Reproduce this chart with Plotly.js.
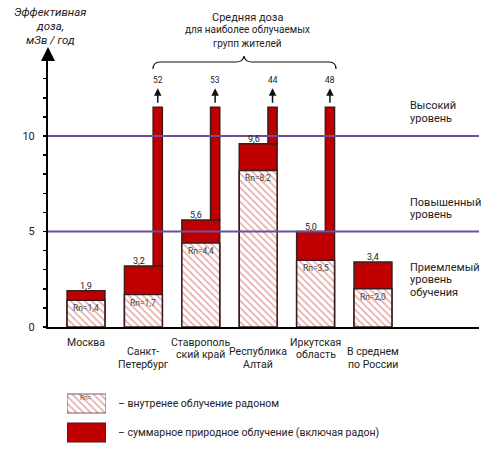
<!DOCTYPE html>
<html><head><meta charset="utf-8">
<script src="https://cdn.plot.ly/plotly-3.0.1.min.js"></script>
<style>html,body{margin:0;padding:0;background:#fff}#chart{width:488px;height:450px}</style>
</head><body><div id="chart"></div>
<script>
// ---- data ----
const categories = ['Москва', 'Санкт-\nПетербург', 'Ставрополь\nский край', 'Республика\nАлтай', 'Иркутская\nобласть', 'В среднем\nпо России'];
const radonDose = [1.4, 1.7, 4.4, 8.2, 3.5, 2.0];
const totalDose = [1.9, 3.2, 5.6, 9.6, 5.0, 3.4];
const maxGroupDose = [null, 52, 53, 44, 48, null];
const brokenBarCap = 11.5;            // displayed height of the off-scale bars
const levelValues = [5, 10];
const levelLabels = ['Высокий\nуровень', 'Повышенный\nуровень', 'Приемлемый\nуровень\nобучения'];
const yTickVals = [0, 5, 10];
const yTickText = ['0', '5', '10'];
const yTitleLines = ['Эффективная', 'доза,', 'мЗв / год'];
const bracketTitleLines = ['Средняя доза', 'для наиболее облучаемых', 'групп жителей'];
const legendLabels = ['– внутренее облучение радоном', '– суммарное природное облучение (включая радон)'];

// ---- style ----
const W = 488, H = 450;
const X = px => px / W, Y = py => 1 - py / H;
const RED = '#c00000', OUT = '#3a1c1c', PINK = '#e6a6a6', PURPLE = '#6e4f98';
const FONT = 'Roboto, "Open Sans", sans-serif';
const fmt = v => v.toFixed(1).replace('.', ',');
const hatch = {shape: '\\', fgcolor: PINK, bgcolor: '#ffffff', size: 5, solidity: 0.3};
const idx = categories.map((_, i) => i);
const WIDE = 0.66, NARROW = 0.16;

const brokenIdx = idx.filter(i => maxGroupDose[i] !== null);

const traces = [
  {type: 'bar', x: idx, y: totalDose, width: WIDE, offset: -WIDE / 2,
   marker: {color: RED, line: {color: OUT, width: 1.5}}, hoverinfo: 'skip', xaxis: 'x', yaxis: 'y'},
  {type: 'bar', x: brokenIdx, base: brokenIdx.map(i => totalDose[i]),
   y: brokenIdx.map(i => Math.min(maxGroupDose[i], brokenBarCap) - totalDose[i]),
   width: NARROW, offset: WIDE / 2 - NARROW,
   marker: {color: RED, line: {color: OUT, width: 1.5}}, hoverinfo: 'skip', xaxis: 'x', yaxis: 'y'},
  {type: 'bar', x: idx, y: radonDose, width: WIDE, offset: -WIDE / 2,
   marker: {color: '#ffffff', pattern: hatch, line: {color: OUT, width: 1.5}}, hoverinfo: 'skip', xaxis: 'x', yaxis: 'y'},
  // legend swatches
  {type: 'bar', orientation: 'h', y: [1], x: [1], width: 0.655,
   marker: {color: '#ffffff', pattern: hatch, line: {color: '#7a5a5a', width: 1}}, hoverinfo: 'skip', xaxis: 'x2', yaxis: 'y2'},
  {type: 'bar', orientation: 'h', y: [0], x: [1], width: 0.655,
   marker: {color: RED, line: {color: '#5a1010', width: 1}}, hoverinfo: 'skip', xaxis: 'x2', yaxis: 'y2'}
];

const ann = [];
const txt = (x, y, text, opt) => ann.push(Object.assign({xref: 'paper', yref: 'paper', x: X(x), y: Y(y), text, showarrow: false,
  xanchor: 'center', yanchor: 'middle', font: {family: FONT, size: 11, color: '#222'}}, opt || {}));

// value labels on top of bars
idx.forEach(i => {
  ann.push({xref: 'x', yref: 'y', x: i + (maxGroupDose[i] !== null ? -0.08 : 0), y: totalDose[i], text: fmt(totalDose[i]),
    showarrow: false, xanchor: 'center', yanchor: 'bottom', yshift: -2, font: {family: FONT, size: 9, color: '#222'}});
  ann.push({xref: 'x', yref: 'y', x: i, y: radonDose[i], text: 'Rn=' + fmt(radonDose[i]),
    showarrow: false, xanchor: 'center', yanchor: 'top', yshift: -1, font: {family: FONT, size: 8.5, color: '#444'}});
});
// arrows + values for off-scale bars
brokenIdx.forEach(i => {
  const xc = i + WIDE / 2 - NARROW / 2;
  ann.push({xref: 'x', yref: 'y', x: xc, y: brokenBarCap, yshift: 19, ax: 0, ay: 16, text: '',
    showarrow: true, arrowhead: 2, arrowsize: 1, arrowwidth: 1.5, arrowcolor: '#111'});
  ann.push({xref: 'x', yref: 'y', x: xc, y: brokenBarCap, yshift: 27, text: String(maxGroupDose[i]),
    showarrow: false, xanchor: 'center', yanchor: 'middle', font: {family: FONT, size: 8.5, color: '#222'}});
});
// category labels (staggered)
categories.forEach((c, i) => {
  const top = i % 2 === 0 ? 342 : 351.5;
  c.split('\n').forEach((line, k) => txt(86 + i * 57.4, top + k * 12.5, line, {font: {family: FONT, size: 10.5, color: '#222'}}));
});
// level labels
const levelLabelTops = [106, 202, 267];
levelLabels.forEach((l, j) => l.split('\n').forEach((line, k) =>
  txt(408, levelLabelTops[j] + k * 12.8, line, {xanchor: 'left', font: {family: FONT, size: 11, color: '#222'}})));
// y title
yTitleLines.forEach((l, k) => txt(50, 12 + k * 14, '<i>' + l + '</i>', {font: {family: FONT, size: 11.5, color: '#222'}}));
// bracket title
bracketTitleLines.forEach((l, k) => txt(247, 17 + k * 13, l, {font: {family: FONT, size: k === 0 ? 11 : 10, color: '#222'}}));
// legend
legendLabels.forEach((l, k) => txt(116, 403 + k * 29, l, {xanchor: 'left', font: {family: FONT, size: 10.5, color: '#222'}}));
txt(86, 398, 'Rn=', {font: {family: FONT, size: 6.5, color: '#555'}});
// y axis arrow head
ann.push({xref: 'paper', yref: 'paper', x: X(48), y: Y(47), ax: 0, ay: 14, text: '', showarrow: true,
  arrowhead: 2, arrowsize: 1.4, arrowwidth: 2, arrowcolor: '#000'});

const P = (x, y) => `${X(x)},${Y(y)}`;
const shapes = levelValues.map(v => ({type: 'line', xref: 'paper', yref: 'y', x0: X(48), x1: X(479), y0: v, y1: v,
  line: {color: PURPLE, width: 2}, layer: 'above'}));
shapes.push({type: 'path', xref: 'paper', yref: 'paper', layer: 'above',
  path: `M${P(153, 69)} Q${P(153, 62)} ${P(160, 62)} L${P(236, 62)} Q${P(243, 62)} ${P(244, 56)} Q${P(245, 62)} ${P(252, 62)} L${P(329, 62)} Q${P(336, 62)} ${P(336, 69)}`,
  line: {color: '#111', width: 1.2}});

const layout = {
  width: W, height: H, margin: {l: 0, r: 0, t: 0, b: 0},
  paper_bgcolor: '#fff', plot_bgcolor: 'rgba(0,0,0,0)',
  barmode: 'overlay', showlegend: false, bargap: 0,
  font: {family: FONT, color: '#222'},
  xaxis: {domain: [X(48), X(479)], range: [-0.662, 6.847], showgrid: false, zeroline: false,
    showticklabels: false, ticks: '', showline: true, linecolor: '#000', linewidth: 2, fixedrange: true},
  yaxis: {domain: [Y(327), Y(52)], range: [0, 275 / 19.1], showgrid: false, zeroline: false,
    tickvals: yTickVals, ticktext: yTickText, ticks: 'outside', ticklen: 3, tickcolor: '#000', tickwidth: 1.5,
    minor: {dtick: 1, ticks: 'outside', ticklen: 3, tickcolor: '#000', tickwidth: 1.5},
    ticklabelstandoff: 6, tickfont: {family: FONT, size: 11, color: '#222'},
    showline: true, linecolor: '#000', linewidth: 2, fixedrange: true},
  xaxis2: {domain: [X(67), X(106)], range: [0, 1], visible: false, anchor: 'y2', fixedrange: true},
  yaxis2: {domain: [Y(447), Y(389)], range: [-0.5, 1.5], visible: false, anchor: 'x2', fixedrange: true},
  annotations: ann, shapes: shapes
};
Plotly.newPlot('chart', traces, layout, {displayModeBar: false, staticPlot: true});
</script></body></html>
